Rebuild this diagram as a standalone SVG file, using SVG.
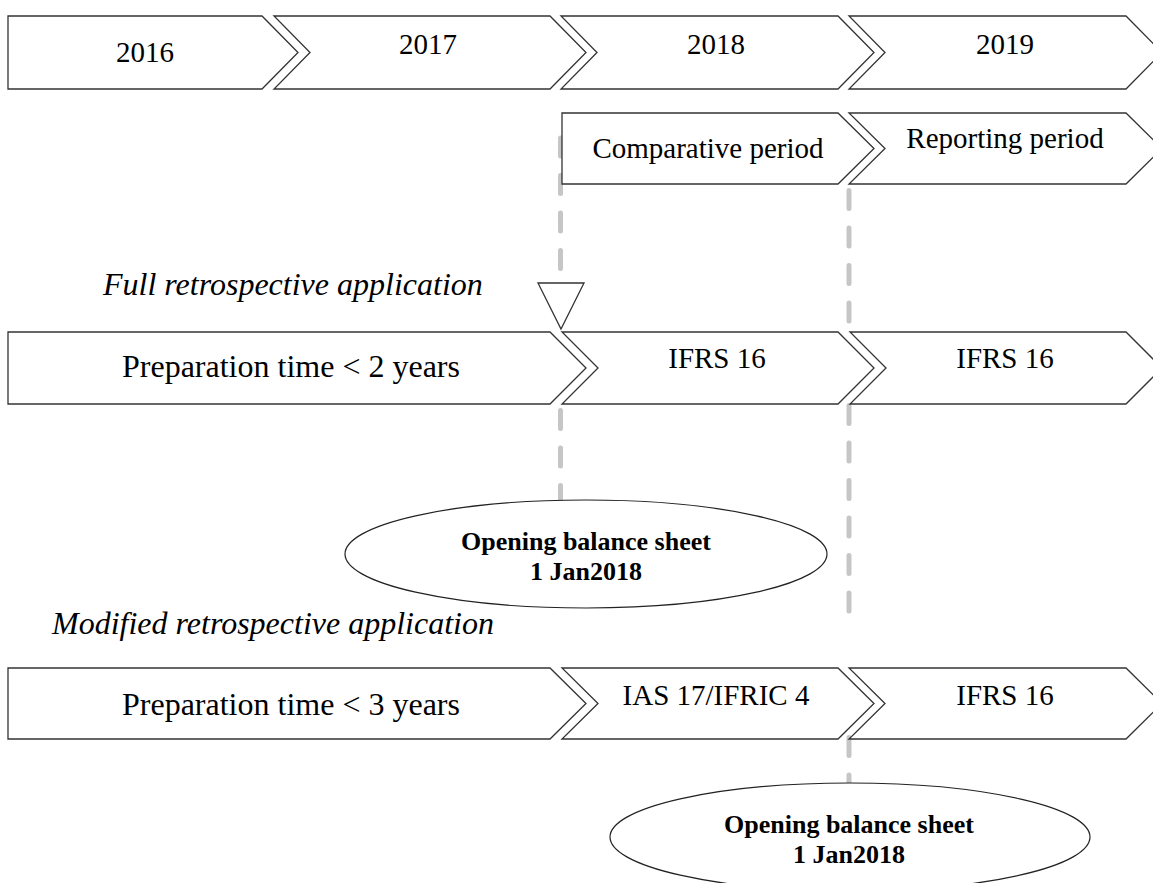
<svg xmlns="http://www.w3.org/2000/svg" width="1153" height="883" viewBox="0 0 1153 883">
<style>
.shape{fill:#fff;stroke:#333;stroke-width:1.3;stroke-linejoin:miter}
.ell{fill:#fff;stroke:#222;stroke-width:1.2}
.dash{stroke:#c6c6c6;stroke-width:5;stroke-linecap:round;stroke-dasharray:18 19.5;fill:none}
.lbl{font-family:"Liberation Serif","Times New Roman",serif;font-size:29px;fill:#000;text-anchor:middle}
.big{font-family:"Liberation Serif","Times New Roman",serif;font-size:32px;fill:#000}
.it{font-family:"Liberation Serif","Times New Roman",serif;font-size:32px;font-style:italic;fill:#000}
.bold{font-family:"Liberation Serif","Times New Roman",serif;font-size:26px;font-weight:bold;fill:#000;text-anchor:middle}
</style>
<rect width="1153" height="883" fill="#fff"/>
<g id="connectors">
<line class="dash" x1="560.5" y1="138" x2="560.5" y2="280"/>
<line class="dash" x1="560.5" y1="410.5" x2="560.5" y2="500"/>
<line class="dash" x1="849" y1="190.5" x2="849" y2="321"/>
<line class="dash" x1="849" y1="405.5" x2="849" y2="611"/>
<line class="dash" x1="849" y1="737.5" x2="849" y2="790"/>
</g>
<g id="y2016"><path class="shape" d="M8,16 H262 L298,52.5 L262,89 H8 Z"/><text class="lbl" x="145" y="62">2016</text></g>
<g id="y2017"><path class="shape" d="M274,16 H550 L586,52.5 L550,89 H274 L310,52.5 Z"/><text class="lbl" x="428" y="54">2017</text></g>
<g id="y2018"><path class="shape" d="M561,16 H838 L874,52.5 L838,89 H561 L597,52.5 Z"/><text class="lbl" x="716" y="54">2018</text></g>
<g id="y2019"><path class="shape" d="M849,16 H1126 L1162,52.5 L1126,89 H849 L885,52.5 Z"/><text class="lbl" x="1005" y="54">2019</text></g>
<g id="comparative"><path class="shape" d="M562,113 H838 L874,148.5 L838,184 H562 Z"/><text class="lbl" x="708" y="158">Comparative period</text></g>
<g id="reporting"><path class="shape" d="M849,113 H1126 L1162,148.5 L1126,184 H849 L885,148.5 Z"/><text class="lbl" x="1005" y="148">Reporting period</text></g>
<g id="full-label"><text class="it" x="103" y="295">Full retrospective application</text></g>
<g id="marker"><path class="shape" d="M538,283 H584 L561,329 Z"/></g>
<g id="full-prep"><path class="shape" d="M8,332 H550 L586,368 L550,404 H8 Z"/><text class="big" x="122" y="377">Preparation time &lt; 2 years</text></g>
<g id="full-2018"><path class="shape" d="M562,332 H838 L874,368 L838,404 H562 L598,368 Z"/><text class="lbl" x="717" y="368">IFRS 16</text></g>
<g id="full-2019"><path class="shape" d="M850,332 H1126 L1162,368 L1126,404 H850 L886,368 Z"/><text class="lbl" x="1005" y="368">IFRS 16</text></g>
<g id="opening1"><ellipse class="ell" cx="586" cy="554" rx="241" ry="54"/><text class="bold" x="586" y="550">Opening balance sheet</text><text class="bold" x="586" y="580">1 Jan2018</text></g>
<g id="modified-label"><text class="it" x="52" y="634">Modified retrospective application</text></g>
<g id="mod-prep"><path class="shape" d="M8,668 H550 L586,703.5 L550,739 H8 Z"/><text class="big" x="122" y="715">Preparation time &lt; 3 years</text></g>
<g id="mod-2018"><path class="shape" d="M562,668 H838 L874,703.5 L838,739 H562 L598,703.5 Z"/><text class="lbl" x="716" y="705">IAS 17/IFRIC 4</text></g>
<g id="mod-2019"><path class="shape" d="M849,668 H1126 L1162,703.5 L1126,739 H849 L885,703.5 Z"/><text class="lbl" x="1005" y="705">IFRS 16</text></g>
<g id="opening2"><ellipse class="ell" cx="850" cy="837" rx="240" ry="54"/><text class="bold" x="849" y="833">Opening balance sheet</text><text class="bold" x="849" y="863">1 Jan2018</text></g>
</svg>
